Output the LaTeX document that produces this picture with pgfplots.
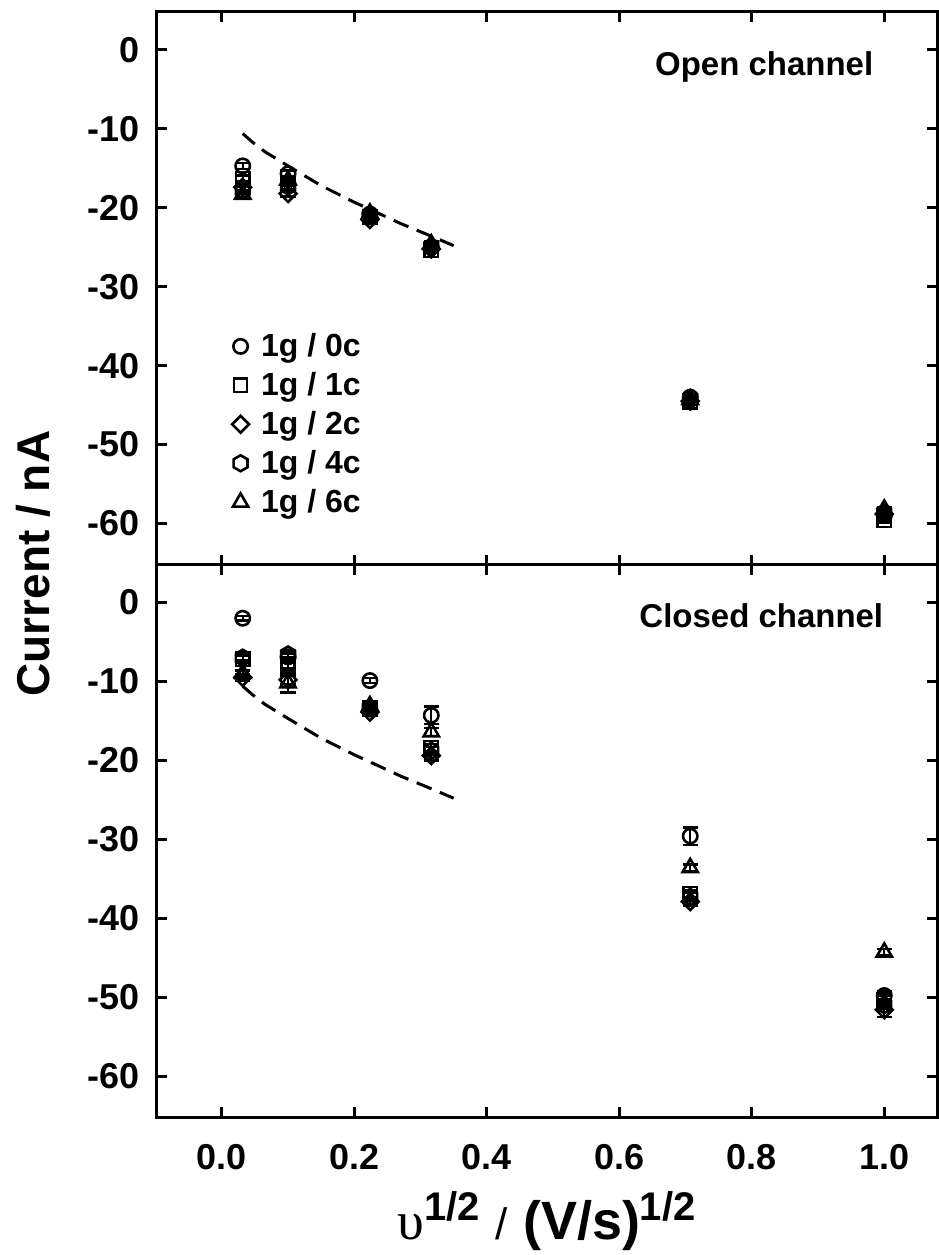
\documentclass[border=0pt]{standalone}
\usepackage{fontspec}
\setmainfont{Liberation Sans}
\newfontfamily\greekserif{Liberation Serif}
\usepackage{pgfplots}
\usepackage{pgfplotstable}
\pgfplotsset{compat=1.18}

% hexagon marker, pointed top
\pgfdeclareplotmark{hexagon}{%
  \pgfpathmoveto{\pgfpointpolar{90}{\pgfplotmarksize}}%
  \pgfpathlineto{\pgfpointpolar{150}{\pgfplotmarksize}}%
  \pgfpathlineto{\pgfpointpolar{210}{\pgfplotmarksize}}%
  \pgfpathlineto{\pgfpointpolar{270}{\pgfplotmarksize}}%
  \pgfpathlineto{\pgfpointpolar{330}{\pgfplotmarksize}}%
  \pgfpathlineto{\pgfpointpolar{30}{\pgfplotmarksize}}%
  \pgfpathclose
  \pgfusepathqstroke
}
% diamond with equal axes
\pgfdeclareplotmark{rdiamond}{%
  \pgfpathmoveto{\pgfpoint{0pt}{\pgfplotmarksize}}%
  \pgfpathlineto{\pgfpoint{-\pgfplotmarksize}{0pt}}%
  \pgfpathlineto{\pgfpoint{0pt}{-\pgfplotmarksize}}%
  \pgfpathlineto{\pgfpoint{\pgfplotmarksize}{0pt}}%
  \pgfpathclose
  \pgfusepathqstroke
}

% open channel
\pgfplotstableread{
x      y0    e0   y1    e1   y2    e2   y4    e4   y6    e6
0.0316 -14.7 0.4  -16.3 0.4  -17.4 0.4  -17.8 0.4  -18.3 0.4
0.1    -15.7 0.4  -16.8 0.4  -18.2 0.4  -17.3 0.4  -16.5 0.4
0.2236 -20.8 0.3  -21.2 0.3  -21.5 0.3  -21.0 0.3  -20.7 0.3
0.3162 -25.0 0.3  -25.4 0.3  -25.2 0.3  -24.9 0.3  -24.6 0.3
0.7071 -44.0 0.3  -44.6 0.3  -44.5 0.3  -44.1 0.3  -44.3 0.3
1.0    -59.0 0.3  -59.6 0.3  -58.8 0.3  -58.6 0.3  -58.2 0.3
}\opentab

% closed channel
\pgfplotstableread{
x      y0    e0   y1    e1   y2    e2   y4    e4   y6    e6
0.0316 -2.0  0.3  -7.2  0.4  -9.5  0.4  -7.0  0.3  -9.0  0.4
0.1    -6.9  0.4  -7.8  0.5  -9.8  0.5  -6.6  0.4  -10.2 1.2
0.2236 -9.9  0.3  -13.5 0.5  -13.9 0.5  -13.4 0.4  -13.1 0.6
0.3162 -14.3 1.1  -18.4 0.5  -19.4 0.6  -18.8 0.5  -16.4 0.5
0.7071 -29.6 1.1  -36.9 0.4  -37.9 0.5  -37.3 0.5  -33.6 0.4
1.0    -49.8 0.5  -50.4 0.6  -51.6 0.9  -51.0 0.5  -44.3 0.4
}\closedtab

% dashed reference line, same in both panels
\pgfplotstableread{
x      y
0.0316 -10.6
0.045  -11.6
0.065  -12.9
0.1    -14.7
0.15   -17.2
0.2    -19.3
0.2236 -20.2
0.27   -22.0
0.3162 -23.6
0.35   -24.8
}\fittab

\pgfplotsset{
  panel/.style={
    scale only axis, width=390.5pt, height=276.5pt,
    xmin=-0.098, xmax=1.08, ymin=-65.2, ymax=4.8,
    axis line style={line width=1.5pt},
    every tick/.style={black, line width=1.5pt},
    major tick length=5pt, tick align=inside,
    xtick={0,0.2,0.4,0.6,0.8,1.0}, ytick={-60,-50,-40,-30,-20,-10,0},
    tick label style={font=\fontsize{18}{18}\selectfont\bfseries},
    /pgf/number format/assume math mode=true,
    yticklabel style={xshift=-5pt},
    xticklabel style={yshift=-10pt, /pgf/number format/.cd, fixed, fixed zerofill, precision=1},
  },
  ser/.style={only marks, black, mark size=3.6pt,
    mark options={solid, line width=1.3pt, draw=black, fill=none},
    error bars/y dir=both, error bars/y explicit,
    error bars/error bar style={line width=1.2pt, black},
    error bars/error mark options={rotate=90, line width=1.2pt, mark size=3.8pt, black}},
  fit/.style={black, line width=1.5pt, dash pattern=on 8pt off 4.5pt, no marks},
}

\begin{document}
\begin{tikzpicture}
\begin{axis}[panel, at={(0,276.5pt)}, anchor=south west,
    xticklabels={},
    legend cell align=left,
    legend image code/.code={\draw[#1] plot coordinates {(0pt,0pt)};},
    legend style={draw=none, fill=none, at={(rel axis cs:0.096,0.425)}, anchor=north west,
      font=\fontsize{16}{16}\selectfont\bfseries, inner sep=0pt,
      nodes={inner sep=1.6pt}, row sep=3.2pt,
      /tikz/every odd column/.append style={column sep=4.5pt}},
]
\addplot[fit, forget plot] table[x=x, y=y] {\fittab};
\addplot[ser, mark=o] table[x=x, y=y0, y error=e0] {\opentab};
\addplot[ser, mark=square, mark size=3.3pt] table[x=x, y=y1, y error=e1] {\opentab};
\addplot[ser, mark=rdiamond, mark size=4.2pt] table[x=x, y=y2, y error=e2] {\opentab};
\addplot[ser, mark=hexagon, mark size=4.0pt] table[x=x, y=y4, y error=e4] {\opentab};
\addplot[ser, mark=triangle, mark size=4.4pt] table[x=x, y=y6, y error=e6] {\opentab};
\legend{1g / 0c, 1g / 1c, 1g / 2c, 1g / 4c, 1g / 6c}
\node[anchor=base east, font=\fontsize{16.5}{16.5}\selectfont\bfseries] at (axis cs:0.994,-3.2) {Open channel};
\end{axis}

\begin{axis}[panel, at={(0,0)}, anchor=south west]
\addplot[fit] table[x=x, y=y] {\fittab};
\addplot[ser, mark=o] table[x=x, y=y0, y error=e0] {\closedtab};
\addplot[ser, mark=square, mark size=3.3pt] table[x=x, y=y1, y error=e1] {\closedtab};
\addplot[ser, mark=rdiamond, mark size=4.2pt] table[x=x, y=y2, y error=e2] {\closedtab};
\addplot[ser, mark=hexagon, mark size=4.0pt] table[x=x, y=y4, y error=e4] {\closedtab};
\addplot[ser, mark=triangle, mark size=4.4pt] table[x=x, y=y6, y error=e6] {\closedtab};
\node[anchor=base east, font=\fontsize{16.5}{16.5}\selectfont\bfseries] at (axis cs:1.009,-3.2) {Closed channel};
\end{axis}

\node[rotate=90, font=\fontsize{23}{23}\selectfont\bfseries] at (-62pt,277pt) {Current / nA};
\node[anchor=base, font=\fontsize{27}{27}\selectfont] at (195.25pt,-61pt)
  {{\greekserif υ}\textsuperscript{\fontsize{20}{20}\selectfont\bfseries 1/2} {\fontsize{22}{22}\selectfont/} \bfseries(V/s)\textsuperscript{\fontsize{20}{20}\selectfont 1/2}};

\pgfresetboundingbox
\path[use as bounding box] (-78.5pt,-69pt) rectangle (391pt,559pt);
\end{tikzpicture}
\end{document}
